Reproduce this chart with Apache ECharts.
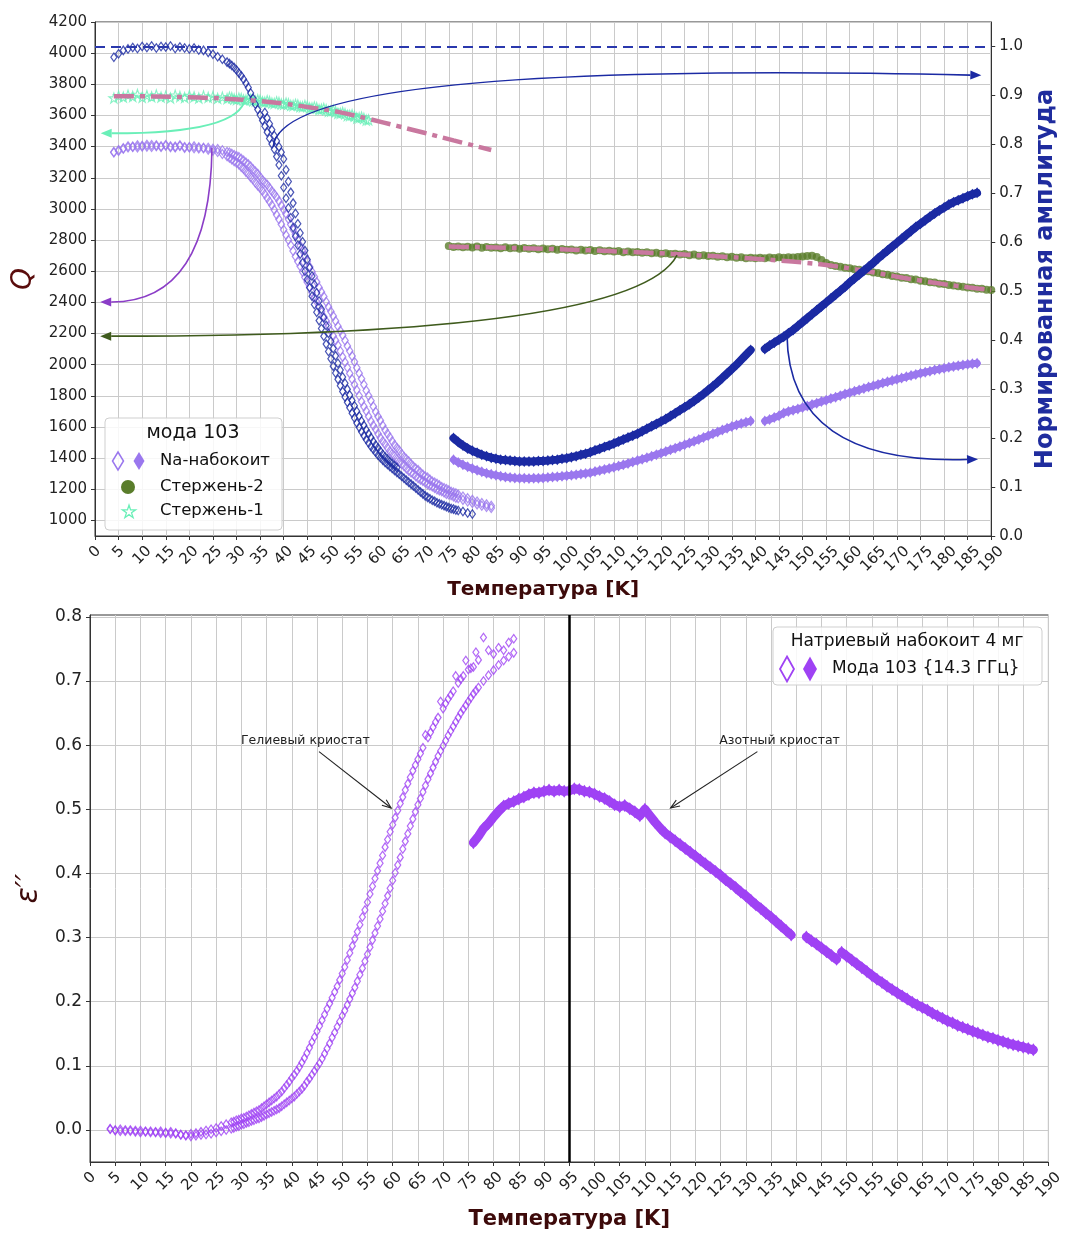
<!DOCTYPE html>
<html>
<head>
<meta charset="utf-8">
<script src="https://cdn.jsdelivr.net/npm/echarts@6/dist/echarts.min.js"></script>
<style>
  html, body { margin: 0; padding: 0; background: #fff; }
  #chart { width: 1066px; height: 1233px; }
</style>
</head>
<body>
<div id="chart"></div>
<script>
// ---------------- data ----------------
// Temperatures (K): helium-cryostat sweep (denser where the curves fall steeply) and nitrogen-cryostat sweep
const tempHe = [4,5,6,7,8,9,10,11,12,13,14,15,16,17,18,19,20,21,22,23,24,25,26,27,28,
  28.5,29,29.5,30,30.5,31,31.5,32,32.5,33,33.5,34,34.5,35,35.5,36,36.5,37,37.5,38,38.5,39,39.5,40,40.5,41,41.5,42,42.5,43,
  43.5,44,44.5,45,45.5,46,46.5,47,47.5,48,48.5,49,49.5,50,50.5,51,51.5,52,52.5,53,53.5,54,54.5,55,55.5,56,56.5,57,57.5,58,
  58.5,59,59.5,60,60.5,61,61.5,62,62.5,63,63.5,64,64.5,65,65.5,66,66.5,67,67.5,68,68.5,69,69.5,70,70.5,71,71.5,72,72.5,73,
  73.5,74,74.5,75,75.5,76,76.5,77,78,79,80,81,82,83,84];
const tempN2 = [75,76,77,78,79,80,81,82,83,84,85,86,87,88,89,90,91,92,93,94,95,96,97,98,99,100,101,102,103,104,105,106,107,108,109,110,111,112,113,114,115,116,117,118,119,120,121,122,123,124,125,126,127,128,129,130,131,132,133,134,135,136,137,138,139,140,141,142,143,144,145,146,147,148,149,150,151,152,153,154,155,156,157,158,159,160,161,162,163,164,165,166,167,168,169,170,171,172,173,174,175,176,177,178,179,180,181,182,183,184,185,186,187,188,189,190];

// Q of Na-nabokoite, helium cryostat (two sweeps, on tempHe)
const naQHeSweep1 = [3362,3378,3390,3402,3398,3408,3400,3412,3398,3408,3402,3410,3396,3400,3404,3392,3398,3390,3388,3392,3380,3374,3366,3352,3338,
  3328,3318,3306,3296,3286,3270,3257,3238,3224,3204,
  3189,3168,3150,3134,3117,3094,3070,3048,3024,2994,
  2963,2934,2902,2866,2832,2800,2767,2730,2694,2662,
  2632,2596,2561,2530,2499,2464,2432,2404,2374,2340,
  2308,2280,2250,2216,2184,2155,2124,2088,2050,2016,
  1982,1944,1906,1872,1838,1800,1764,1732,1702,1668,
  1637,1610,1585,1556,1530,1508,1489,1466,1445,1428,
  1413,1394,1376,1362,1350,1334,1319,1308,1298,1284,
  1271,1262,1254,1243,1232,1225,1218,1208,1198,1193,
  1188,1179,1170,1166,1162,1154,1146,1143,
  1132,1122,1112,1103,1094,1086,1080];
const naQHeSweep2 = [3366,3372,3386,3394,3400,3395,3406,3400,3410,3402,3398,3406,3402,3395,3408,3398,3394,3402,3396,3390,3392,3386,3384,3376,3366,
  3362,3354,3346,3340,3333,3322,3310,3298,3287,3272,
  3255,3240,3225,3205,3186,3170,3155,3135,3114,3095,
  3075,3050,3022,2995,2968,2935,2900,2868,2836,2800,
  2764,2732,2700,2664,2628,2596,2565,2530,2496,2466,
  2437,2404,2371,2342,2313,2280,2247,2218,2189,2155,
  2120,2088,2055,2018,1980,1945,1910,1872,1834,1800,
  1768,1732,1698,1668,1641,1610,1581,1556,1534,1508,
  1485,1466,1449,1428,1409,1394,1380,1362,1346,1334,
  1323,1308,1294,1284,1275,1262,1250,1243,1236,1225,
  1214,1208,1202,1193,1184,1179,1174,1166,
  1154,1143,1132,1122,1112,1103,1094];
// Q of Na-nabokoite, nitrogen cryostat (T = 76..139 and 142..187)
const naQN2Part1 = [1390,1372,1358,1345,1333,1322,1312,1303,1296,1290,1284,1279,1275,1272,1270,1270,1269,1270,1271,1273,1275,1278,1281,1284,1287,1290,1294,1298,1302,1306,1314,1320,1327,1334,1341,1349,1357,1366,1375,1384,1393,1402,1412,1422,1432,1442,1453,1464,1475,1486,1497,1508,1520,1532,1544,1556,1568,1580,1592,1603,1613,1622,1630,1638];
const naQN2Part2 = [1638,1648,1660,1672,1690,1700,1708,1716,1725,1734,1744,1753,1763,1772,1782,1791,1801,1811,1820,1829,1838,1847,1856,1864,1873,1882,1890,1898,1906,1914,1922,1930,1937,1945,1952,1958,1965,1971,1977,1983,1988,1993,1998,2002,2006,2009];

// Normalized amplitude of Na-nabokoite, helium cryostat (T = 4..80; second sweep T = 36..64)
const naAmpHeSweep1 = [0.978,0.985,0.992,0.995,0.998,0.996,1.000,0.998,1.001,0.997,1.000,0.999,1.001,0.996,0.999,0.997,0.995,0.997,0.993,0.992,0.988,0.984,0.979,0.974,0.968,
  0.965,0.961,0.957,0.952,0.946,0.940,0.933,0.925,0.916,0.905,
  0.894,0.882,0.871,0.860,0.849,0.837,0.825,0.812,0.801,0.790,
  0.775,0.758,0.736,0.712,0.690,0.670,0.650,0.630,0.612,0.594,
  0.576,0.558,0.541,0.524,0.507,0.490,0.473,0.457,0.440,0.424,
  0.408,0.392,0.377,0.362,0.347,0.333,0.320,0.307,0.295,0.284,
  0.273,0.262,0.251,0.241,0.231,0.222,0.213,0.205,0.197,0.190,
  0.183,0.177,0.171,0.165,0.160,0.155,0.150,0.146,0.142,0.138,
  0.134,0.130,0.126,0.122,0.118,0.114,0.110,0.106,0.102,0.098,
  0.094,0.090,0.086,0.082,0.079,0.076,0.073,0.071,0.068,0.066,
  0.064,0.062,0.060,0.058,0.056,0.055,0.053,0.052,
  0.050,0.047,0.045];
const naAmpHeSweep2 = [0.865,0.854,0.842,0.830,0.818,0.807,0.795,0.784,0.770,0.748,
  0.724,0.702,0.680,0.659,0.638,0.619,0.601,0.583,0.565,0.548,
  0.531,0.514,0.497,0.480,0.463,0.446,0.430,0.414,0.398,0.383,
  0.368,0.353,0.339,0.325,0.312,0.300,0.288,0.277,0.266,0.255,
  0.245,0.235,0.226,0.217,0.209,0.201,0.193,0.186,0.180,0.173,
  0.167,0.162,0.157,0.152,0.148,0.144,0.140];
// Normalized amplitude, nitrogen cryostat (T = 76..139 and 142..187)
const naAmpN2Part1 = [0.200,0.192,0.185,0.179,0.174,0.170,0.166,0.163,0.160,0.158,0.156,0.155,0.154,0.153,0.152,0.152,0.152,0.152,0.153,0.153,0.154,0.155,0.156,0.158,0.159,0.161,0.163,0.166,0.168,0.171,0.175,0.178,0.182,0.185,0.189,0.193,0.197,0.201,0.205,0.209,0.214,0.219,0.224,0.229,0.234,0.239,0.245,0.251,0.257,0.263,0.269,0.276,0.283,0.290,0.298,0.306,0.314,0.323,0.332,0.341,0.350,0.360,0.370,0.380];
const naAmpN2Part2 = [0.382,0.389,0.395,0.401,0.407,0.414,0.421,0.429,0.437,0.445,0.453,0.461,0.469,0.477,0.485,0.493,0.501,0.509,0.518,0.526,0.534,0.542,0.550,0.558,0.567,0.575,0.583,0.591,0.599,0.607,0.615,0.623,0.631,0.638,0.645,0.652,0.659,0.665,0.671,0.677,0.682,0.686,0.690,0.694,0.698,0.701];

// Reference rods: Q of rod 1 (helium, T = 4..58) and rod 2 (nitrogen, T = 75..190)
const rod1Q = [3712,3725,3718,3730,3722,3735,3716,3728,3720,3732,3718,3724,3712,3730,3722,3715,3728,3720,3712,3725,3716,3722,3710,3718,3708,
  3718,3714,3706,3702,3712,3710,3700,3698,3708,3704,
  3695,3692,3702,3698,3688,3686,3695,3690,3680,3678,
  3688,3684,3674,3672,3680,3676,3665,3664,3672,3668,
  3657,3656,3664,3660,3648,3648,3655,3650,3638,3640,
  3645,3638,3627,3628,3634,3626,3614,3614,3620,3612,
  3600,3600,3605,3596,3584,3586,3590,3582,3570,3572];
const rod2Q = [2762,2755,2759,2754,2757,2752,2758,2750,2755,2751,2753,2747,2754,2748,2750,2745,2749,2744,2748,2741,2746,2741,2744,2738,2742,2737,2740,2733,2738,2733,2736,2730,2734,2728,2731,2726,2729,2722,2727,2721,2724,2718,2721,2716,2719,2712,2716,2710,2712,2707,2710,2703,2707,2700,2703,2697,2700,2693,2696,2690,2693,2687,2690,2684,2686,2684,2687,2683,2688,2685,2689,2686,2690,2688,2692,2694,2698,2700,2692,2672,2652,2640,2633,2628,2622,2619,2612,2609,2602,2599,2592,2589,2580,2577,2569,2566,2558,2556,2548,2546,2538,2536,2529,2527,2520,2518,2511,2509,2503,2501,2495,2494,2488,2487,2481,2480];
// Smooth fits through the rod data
const rod1FitT = [4,10,16,22,28,34,40,46,52,58,64,70,76,84];
const rod1FitQ = [3724,3723,3720,3715,3707,3695,3676,3650,3620,3578,3533,3487,3440,3378];
const rod2FitT = [75,80,85,90,95,100,105,110,115,120,125,130,135,140,145,150,155,160,165,170,175,180,185,190];
const rod2FitQ = [2758,2755,2752,2748,2744,2739,2734,2728,2722,2715,2707,2699,2690,2680,2669,2656,2640,2618,2593,2565,2540,2517,2497,2480];

// Imaginary permittivity eps'' (lower panel): helium sweeps on tempHe
const epsHeSweep1 = [0.002,-0.001,0.001,-0.002,0.000,-0.003,-0.001,-0.003,-0.002,-0.004,-0.002,-0.005,-0.003,-0.006,-0.007,-0.008,-0.006,-0.005,-0.003,-0.001,0.001,0.003,0.006,0.009,0.012,
  0.013,0.015,0.016,0.018,0.019,0.021,0.023,0.025,0.027,0.029,
  0.031,0.034,0.037,0.040,0.043,0.046,0.049,0.052,0.056,0.060,
  0.065,0.070,0.075,0.081,0.086,0.092,0.098,0.105,0.112,0.120,
  0.128,0.137,0.145,0.154,0.162,0.171,0.180,0.189,0.197,0.206,
  0.215,0.224,0.234,0.244,0.254,0.265,0.276,0.287,0.298,0.309,
  0.320,0.332,0.343,0.355,0.368,0.380,0.392,0.404,0.416,0.428,
  0.441,0.453,0.465,0.476,0.487,0.498,0.509,0.519,0.530,0.540,
  0.550,0.560,0.569,0.578,0.587,0.596,0.616,0.612,0.620,0.628,
  0.636,0.643,0.668,0.657,0.665,0.672,0.678,0.684,0.708,0.697,
  0.703,0.708,0.732,0.718,0.720,0.722,0.745,0.733,
  0.768,0.748,0.742,0.752,0.748,0.760,0.766];
const epsHeSweep2 = [0.001,0.000,-0.002,0.000,-0.002,-0.001,-0.004,-0.002,-0.004,-0.003,-0.005,-0.004,-0.006,-0.005,-0.008,-0.009,-0.010,-0.009,-0.008,-0.007,-0.006,-0.004,-0.002,0.000,0.002,
  0.003,0.005,0.006,0.008,0.009,0.011,0.012,0.014,0.015,0.017,
  0.018,0.020,0.022,0.024,0.026,0.028,0.030,0.032,0.034,0.037,
  0.040,0.043,0.046,0.049,0.052,0.056,0.060,0.064,0.069,0.075,
  0.080,0.086,0.092,0.098,0.104,0.111,0.119,0.127,0.135,0.144,
  0.152,0.161,0.169,0.178,0.186,0.195,0.204,0.213,0.222,0.232,
  0.242,0.252,0.263,0.274,0.285,0.296,0.307,0.318,0.329,0.341,
  0.353,0.365,0.377,0.389,0.401,0.413,0.425,0.438,0.450,0.462,
  0.474,0.485,0.496,0.507,0.517,0.527,0.537,0.547,0.556,0.565,
  0.574,0.583,0.591,0.599,0.607,0.615,0.622,0.629,0.636,0.643,
  0.650,0.656,0.662,0.668,0.674,0.680,0.685,0.690,
  0.700,0.709,0.717,0.725,0.732,0.738,0.744];
// eps'' nitrogen cryostat (T = 76..139, 142..148, 149..187)
const epsN2Part1 = [0.448,0.458,0.470,0.478,0.488,0.497,0.505,0.509,0.512,0.516,0.519,0.523,0.526,0.526,0.528,0.530,0.528,0.530,0.528,0.529,0.532,0.531,0.528,0.527,0.524,0.520,0.517,0.512,0.507,0.504,0.506,0.501,0.496,0.490,0.500,0.490,0.480,0.471,0.463,0.457,0.451,0.445,0.439,0.433,0.427,0.421,0.415,0.409,0.403,0.397,0.390,0.384,0.378,0.371,0.365,0.358,0.351,0.345,0.338,0.332,0.325,0.318,0.311,0.304];
const epsN2Part2 = [0.301,0.295,0.290,0.284,0.278,0.272,0.266];
const epsN2Part3 = [0.277,0.271,0.265,0.259,0.253,0.247,0.241,0.235,0.230,0.224,0.219,0.214,0.209,0.204,0.199,0.195,0.191,0.187,0.182,0.178,0.174,0.170,0.167,0.163,0.160,0.157,0.154,0.151,0.148,0.145,0.143,0.140,0.138,0.135,0.133,0.131,0.129,0.127,0.125];

// Axis tick labels
const qTicks = [1000,1200,1400,1600,1800,2000,2200,2400,2600,2800,3000,3200,3400,3600,3800,4000,4200];
const ampTicks = [0,0.1,0.2,0.3,0.4,0.5,0.6,0.7,0.8,0.9,1.0];
const epsTicks = [0,0.1,0.2,0.3,0.4,0.5,0.6,0.7,0.8];

// Temperature sub-ranges
const tHe80 = tempHe.slice(0, 126);    // 4..80
const tHe58 = tempHe.slice(0, 85);     // 4..58
const tHeMid = tempHe.slice(40, 97);   // 36..64
const tN2a = tempN2.slice(1, 65);      // 76..139
const tN2b = tempN2.slice(67, 113);    // 142..187
const tN2b1 = tempN2.slice(67, 74);    // 142..148
const tN2b2 = tempN2.slice(74, 113);   // 149..187

const zip = (t, v) => v.map((y, i) => [t[i], y]);

// ---------------- style ----------------
const FONT = 'DejaVu Sans';
const COL = {
  naLight: '#9a77ee',
  naDark: '#1b2aa3',
  rod2: '#5a7d2b',
  rod1: '#6aefb8',
  fit: '#c9789f',
  arrowNa: '#8b3dc7',
  arrowRod2: '#3f5b1d',
  eps: '#9f42f4',
  title: '#3d0a0a',
  axis: '#333333',
  grid: '#cacaca'
};
const STAR = 'path://M0,-10L2.245,-3.09L9.511,-3.09L3.633,1.18L5.878,8.09L0,3.82L-5.878,8.09L-3.633,1.18L-9.511,-3.09L-2.245,-3.09Z';

// Temperature axis shared by both panels; rotated labels centred under their ticks
function tempAxis(gridIndex, nameGap, nameSize) {
  const base = { fontFamily: FONT, fontSize: 15, color: '#222' };
  return {
    type: 'value', gridIndex, min: 0, max: 190, interval: 5,
    name: 'Температура [K]', nameLocation: 'middle', nameGap,
    nameTextStyle: { fontFamily: FONT, fontWeight: 'bold', fontSize: nameSize, color: COL.title },
    axisLine: { show: true, onZero: false, lineStyle: { color: COL.axis, width: 1 } },
    axisTick: { show: true, length: 4, lineStyle: { color: COL.axis } },
    axisLabel: {
      rotate: 45, align: 'center', verticalAlign: 'middle', margin: 16,
      formatter: v => `{d${String(v).length}|${v}}`,
      rich: {
        d1: base,
        d2: Object.assign({ padding: [5, 5, 0, 0] }, base),
        d3: Object.assign({ padding: [10, 10, 0, 0] }, base)
      }
    },
    splitLine: { show: true, lineStyle: { color: COL.grid, width: 1 } }
  };
}

function valueAxis(opts) {
  const { gridIndex, min, max, ticks, digits, position, fontSize, split } = opts;
  return {
    type: 'value', gridIndex, min, max, position,
    name: opts.name, nameLocation: 'middle', nameGap: opts.nameGap,
    nameTextStyle: opts.nameStyle,
    axisLine: { show: true, onZero: false, lineStyle: { color: COL.axis, width: 1 } },
    axisTick: { show: true, length: 4, customValues: ticks, lineStyle: { color: COL.axis } },
    axisLabel: {
      customValues: ticks, margin: 8, fontFamily: FONT, fontSize, color: '#222',
      formatter: v => digits ? v.toFixed(digits) : String(v)
    },
    splitLine: { show: split, lineStyle: { color: COL.grid, width: 1 } }
  };
}

function hollowDiamonds(name, data, color, size, xi, yi) {
  return {
    type: 'scatter', name, data, xAxisIndex: xi, yAxisIndex: yi, silent: true,
    symbol: 'diamond', symbolSize: size,
    itemStyle: { color: 'rgba(0,0,0,0)', borderColor: color, borderWidth: 1.25 }
  };
}
// Dense filled-diamond runs: the markers are joined by a band of the same colour
function filledBand(name, data, color, size, width, xi, yi) {
  return {
    type: 'line', name, data, xAxisIndex: xi, yAxisIndex: yi, silent: true,
    showSymbol: true, symbol: 'diamond', symbolSize: size,
    itemStyle: { color, borderWidth: 0 },
    lineStyle: { color, width, cap: 'round', join: 'round' }
  };
}
function fitLine(name, data) {
  return {
    type: 'line', name, data, xAxisIndex: 0, yAxisIndex: 0, silent: true,
    smooth: 0.4, showSymbol: false, symbol: 'none',
    lineStyle: { color: COL.fit, width: 4.5, type: [20, 6, 5, 6], cap: 'butt' }
  };
}

// Curved annotation arrows, anchored in data coordinates (quadratic Bezier: from -> via -> to)
const qArrows = [
  { from: [31.8, 3710], via: [30.8, 3485], to: [1.2, 3485], color: COL.rod1, width: 2 },
  { from: [24.8, 3391], via: [24.4, 2402], to: [1.1, 2402], color: COL.arrowNa, width: 1.6 },
  { from: [123.4, 2704], via: [114.4, 2183], to: [1.1, 2183], color: COL.arrowRod2, width: 1.6 }
];
const ampArrows = [
  { from: [37.8, 0.796], via: [39.9, 0.973], to: [187.9, 0.941], color: COL.naDark, width: 1.6 },
  { from: [146.7, 0.411], via: [147.0, 0.145], to: [187.2, 0.157], color: COL.naDark, width: 1.6 }
];
const notes = [
  { text: 'Гелиевый криостат', at: [42.7, 0.607], from: [45.4, 0.590], to: [59.7, 0.502] },
  { text: 'Азотный криостат', at: [136.7, 0.607], from: [132.3, 0.590], to: [115.1, 0.502] }
];

function headPoints(tip, dir, hl, hw) {
  const bx = tip[0] - dir[0] * hl, by = tip[1] - dir[1] * hl;
  const nx = -dir[1], ny = dir[0];
  return { base: [bx, by], pts: [[bx + nx * hw, by + ny * hw], [tip[0], tip[1]], [bx - nx * hw, by - ny * hw]] };
}

function curvedArrows(list) {
  return (params, api) => {
    const a = list[params.dataIndex];
    const p0 = api.coord(a.from), c = api.coord(a.via), p1 = api.coord(a.to);
    let dx = p1[0] - c[0], dy = p1[1] - c[1];
    const L = Math.hypot(dx, dy) || 1; dx /= L; dy /= L;
    const h = headPoints(p1, [dx, dy], 11, 4.5);
    return {
      type: 'group',
      children: [
        { type: 'bezierCurve', shape: { x1: p0[0], y1: p0[1], cpx1: c[0], cpy1: c[1], x2: h.base[0], y2: h.base[1] },
          style: { stroke: a.color, lineWidth: a.width, fill: null } },
        { type: 'polygon', shape: { points: h.pts }, style: { fill: a.color } }
      ]
    };
  };
}

function noteItems(params, api) {
  const n = notes[params.dataIndex];
  const t = api.coord(n.at), p0 = api.coord(n.from), p1 = api.coord(n.to);
  let dx = p1[0] - p0[0], dy = p1[1] - p0[1];
  const L = Math.hypot(dx, dy) || 1; dx /= L; dy /= L;
  const h = headPoints(p1, [dx, dy], 9, 3.5);
  return {
    type: 'group',
    children: [
      { type: 'text', x: t[0], y: t[1],
        style: { text: n.text, fill: '#222', fontFamily: FONT, fontSize: 12.5, align: 'center', verticalAlign: 'middle' } },
      { type: 'line', shape: { x1: p0[0], y1: p0[1], x2: p1[0], y2: p1[1] }, style: { stroke: '#222', lineWidth: 1.1 } },
      { type: 'polyline', shape: { points: h.pts }, style: { stroke: '#222', lineWidth: 1.1, fill: null } }
    ]
  };
}

// ---------------- legends ----------------
const diamondPts = (cx, cy, hw, hh) => [[cx, cy - hh], [cx + hw, cy], [cx, cy + hh], [cx - hw, cy]];
function starPts(cx, cy, R) {
  const pts = [];
  for (let k = 0; k < 10; k++) {
    const ang = -Math.PI / 2 + k * Math.PI / 5;
    const r = k % 2 ? R * 0.382 : R;
    pts.push([cx + r * Math.cos(ang), cy + r * Math.sin(ang)]);
  }
  return pts;
}
const legendText = (text, x, y, size, align) => ({
  type: 'text', x, y, z: 101,
  style: { text, fill: '#111', fontFamily: FONT, fontSize: size, align: align || 'left', verticalAlign: 'middle' }
});

const graphic = [
  // upper legend
  { type: 'rect', z: 100, shape: { x: 105, y: 418, width: 177, height: 112, r: 4 },
    style: { fill: 'rgba(255,255,255,0.85)', stroke: '#cfcfcf', lineWidth: 1 } },
  legendText('мода 103', 193, 433, 19, 'center'),
  { type: 'polygon', z: 101, shape: { points: diamondPts(118, 461, 5.5, 9) }, style: { fill: null, stroke: COL.naLight, lineWidth: 1.5 } },
  { type: 'polygon', z: 101, shape: { points: diamondPts(139, 461, 5.5, 9) }, style: { fill: COL.naLight } },
  legendText('Na-набокоит', 160, 461, 16.5),
  { type: 'circle', z: 101, shape: { cx: 128, cy: 487, r: 7 }, style: { fill: COL.rod2 } },
  legendText('Стержень-2', 160, 487, 16.5),
  { type: 'polygon', z: 101, shape: { points: starPts(129, 512, 7) }, style: { fill: null, stroke: COL.rod1, lineWidth: 1.3 } },
  legendText('Стержень-1', 160, 511, 16.5),
  // lower legend
  { type: 'rect', z: 100, shape: { x: 773, y: 627, width: 269, height: 58, r: 4 },
    style: { fill: 'rgba(255,255,255,0.85)', stroke: '#cfcfcf', lineWidth: 1 } },
  legendText('Натриевый набокоит 4 мг', 907, 642, 17, 'center'),
  { type: 'polygon', z: 101, shape: { points: diamondPts(787, 669, 7, 12.5) }, style: { fill: null, stroke: COL.eps, lineWidth: 1.8 } },
  { type: 'polygon', z: 101, shape: { points: diamondPts(810, 669, 7, 12.5) }, style: { fill: COL.eps } },
  legendText('Мода 103 {14.3 ГГц}', 832, 669, 17)
];

// ---------------- option ----------------
const option = {
  animation: false,
  backgroundColor: '#ffffff',
  textStyle: { fontFamily: FONT },
  grid: [
    { left: 95, top: 22, width: 905, height: 514, show: true, borderColor: COL.axis, borderWidth: 1, backgroundColor: 'rgba(0,0,0,0)' },
    { left: 90, top: 615, width: 962, height: 547, show: true, borderColor: COL.axis, borderWidth: 1, backgroundColor: 'rgba(0,0,0,0)' }
  ],
  xAxis: [tempAxis(0, 44, 20), tempAxis(1, 47, 21)],
  yAxis: [
    valueAxis({ gridIndex: 0, min: 900, max: 4200, ticks: qTicks, digits: 0, position: 'left', fontSize: 15, split: true,
      name: 'Q', nameGap: 55, nameStyle: { fontFamily: FONT, fontStyle: 'italic', fontSize: 28, color: '#5a0c0c' } }),
    valueAxis({ gridIndex: 0, min: 0, max: 1.05, ticks: ampTicks, digits: 1, position: 'right', fontSize: 15, split: false,
      name: 'Нормированная амплитуда', nameGap: 40, nameStyle: { fontFamily: FONT, fontWeight: 'bold', fontSize: 24, color: '#1f2c9e' } }),
    valueAxis({ gridIndex: 1, min: -0.05, max: 0.803, ticks: epsTicks, digits: 1, position: 'left', fontSize: 17, split: true,
      name: 'ε′′', nameGap: 42, nameStyle: { fontFamily: FONT, fontStyle: 'italic', fontSize: 30, color: COL.title } })
  ],
  series: [
    // upper panel, Q axis
    { type: 'scatter', name: 'Стержень-1', data: zip(tHe58, rod1Q), xAxisIndex: 0, yAxisIndex: 0, silent: true,
      symbol: STAR, symbolSize: 10, itemStyle: { color: 'rgba(0,0,0,0)', borderColor: COL.rod1, borderWidth: 1.1 } },
    { type: 'scatter', name: 'Стержень-2', data: zip(tempN2, rod2Q), xAxisIndex: 0, yAxisIndex: 0, silent: true,
      symbol: 'circle', symbolSize: 8, itemStyle: { color: COL.rod2 } },
    hollowDiamonds('Na Q He 1', zip(tempHe, naQHeSweep1), COL.naLight, [6.5, 9], 0, 0),
    hollowDiamonds('Na Q He 2', zip(tempHe, naQHeSweep2), COL.naLight, [6.5, 9], 0, 0),
    filledBand('Na Q N2 1', zip(tN2a, naQN2Part1), COL.naLight, [8, 11], 7, 0, 0),
    filledBand('Na Q N2 2', zip(tN2b, naQN2Part2), COL.naLight, [8, 11], 7, 0, 0),
    fitLine('fit 1', zip(rod1FitT, rod1FitQ)),
    fitLine('fit 2', zip(rod2FitT, rod2FitQ)),
    { type: 'custom', name: 'arrows Q', xAxisIndex: 0, yAxisIndex: 0, silent: true, z: 5,
      data: qArrows.map(a => [...a.from, ...a.via, ...a.to]), encode: { x: [0, 2, 4], y: [1, 3, 5] },
      renderItem: curvedArrows(qArrows) },
    // upper panel, amplitude axis
    Object.assign(hollowDiamonds('Na A He 1', zip(tHe80, naAmpHeSweep1), COL.naDark, [6, 8.5], 0, 1), {
      markLine: { silent: true, symbol: 'none', label: { show: false },
        lineStyle: { color: '#2a38ad', width: 2, type: [10, 6] }, data: [{ yAxis: 1.0 }] }
    }),
    hollowDiamonds('Na A He 2', zip(tHeMid, naAmpHeSweep2), COL.naDark, [6, 8.5], 0, 1),
    filledBand('Na A N2 1', zip(tN2a, naAmpN2Part1), COL.naDark, [8, 11], 8, 0, 1),
    filledBand('Na A N2 2', zip(tN2b, naAmpN2Part2), COL.naDark, [8, 11], 8, 0, 1),
    { type: 'custom', name: 'arrows A', xAxisIndex: 0, yAxisIndex: 1, silent: true, z: 5,
      data: ampArrows.map(a => [...a.from, ...a.via, ...a.to]), encode: { x: [0, 2, 4], y: [1, 3, 5] },
      renderItem: curvedArrows(ampArrows) },
    // lower panel
    Object.assign(hollowDiamonds('eps He 1', zip(tempHe, epsHeSweep1), COL.eps, [6, 8.5], 1, 2), {
      markLine: { silent: true, symbol: 'none', label: { show: false },
        lineStyle: { color: '#000', width: 2.5, type: 'solid' }, data: [{ xAxis: 95 }] }
    }),
    hollowDiamonds('eps He 2', zip(tempHe, epsHeSweep2), COL.eps, [6, 8.5], 1, 2),
    filledBand('eps N2 1', zip(tN2a, epsN2Part1), COL.eps, [9, 13], 9, 1, 2),
    filledBand('eps N2 2', zip(tN2b1, epsN2Part2), COL.eps, [9, 13], 9, 1, 2),
    filledBand('eps N2 3', zip(tN2b2, epsN2Part3), COL.eps, [9, 13], 9, 1, 2),
    { type: 'custom', name: 'notes', xAxisIndex: 1, yAxisIndex: 2, silent: true, z: 5,
      data: notes.map(n => [...n.at, ...n.from, ...n.to]), encode: { x: [0, 2, 4], y: [1, 3, 5] },
      renderItem: noteItems }
  ],
  graphic
};

const chart = echarts.init(document.getElementById('chart'), null, { renderer: 'canvas' });
chart.setOption(option);
</script>
</body>
</html>
